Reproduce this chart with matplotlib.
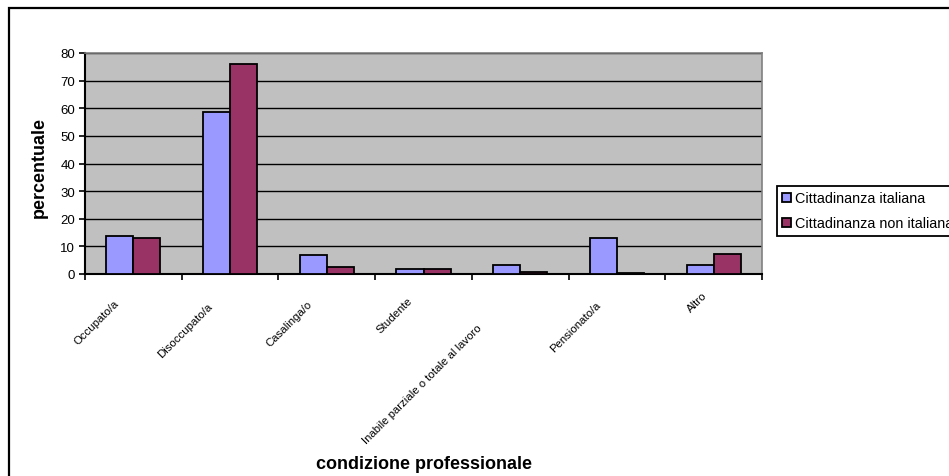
import numpy as np
import matplotlib
matplotlib.use("Agg")
import matplotlib.pyplot as plt
from matplotlib.patches import Rectangle
from matplotlib.transforms import ScaledTranslation

plt.rcParams['font.family'] = ['Liberation Sans', 'DejaVu Sans']

# dati: condizione professionale per cittadinanza (%)
categorie = ["Occupato/a", "Disoccupato/a", "Casalinga/o", "Studente",
             "Inabile parziale o totale al lavoro", "Pensionato/a", "Altro"]
italiana = [13.6, 58.5, 7.0, 1.8, 3.4, 12.9, 3.4]
non_italiana = [12.9, 75.9, 2.6, 1.8, 0.6, 0.5, 7.2]
serie = ["Cittadinanza italiana", "Cittadinanza non italiana"]
colori = ["#9999FF", "#993366"]

W, H = 949, 477
fig = plt.figure(figsize=(W / 100, H / 100), dpi=100)
ax = fig.add_axes([85 / W, 1 - 275 / H, (762 - 85) / W, (275 - 54) / H])

x = np.arange(len(categorie))
w = 0.28
b1 = ax.bar(x - w / 2, italiana, w, color=colori[0], edgecolor="black", linewidth=1.3, zorder=3)
b2 = ax.bar(x + w / 2, non_italiana, w, color=colori[1], edgecolor="black", linewidth=1.3, zorder=3)

ax.set_facecolor("#C0C0C0")
ax.set_xlim(-0.5, len(categorie) - 0.5)
ax.set_ylim(0, 80)
ax.set_yticks(range(0, 81, 10))
ax.yaxis.grid(True, color="black", linewidth=1)
ax.set_axisbelow(True)

# tacche ai bordi delle categorie, etichette disegnate a parte
ax.set_xticks(np.arange(-0.5, len(categorie)))
ax.set_xticklabels([])
ax.tick_params(axis="x", length=4, width=1.2, color="black")
ax.tick_params(axis="y", labelsize=9.5, length=4, width=1.2, pad=3)

for s in ["top", "right"]:
    ax.spines[s].set_color("#808080")
    ax.spines[s].set_linewidth(1.2)
for s in ["left", "bottom"]:
    ax.spines[s].set_color("black")
    ax.spines[s].set_linewidth(1.5)

etichette = []
for xi, nome in zip(x, categorie):
    t = ax.text(xi, 0, nome, transform=ax.get_xaxis_transform(), rotation=45,
                ha="right", va="center", rotation_mode="anchor", fontsize=8.2)
    etichette.append(t)

# sposta ogni etichetta lungo la diagonale in base alla sua lunghezza
r = fig.canvas.get_renderer()
for t in etichette:
    bw = t.get_window_extent(r).width
    dx = 0.33 * bw
    dy = 11 + 0.33 * bw
    t.set_transform(ax.get_xaxis_transform()
                    + ScaledTranslation(-dx / 100, -dy / 100, fig.dpi_scale_trans))

fig.text(39 / W, 1 - 167 / H, "percentuale", rotation=90, fontsize=13,
         fontweight="bold", ha="center", va="center")
fig.text((85 + 762) / 2 / W, 1 - 465 / H, "condizione professionale",
         fontsize=13, fontweight="bold", ha="center", va="center")

leg = fig.legend([b1, b2], serie, loc="upper left",
                 bbox_to_anchor=(776.7 / W, 1 - 186.7 / H), fontsize=10.4,
                 frameon=True, fancybox=False, framealpha=1, edgecolor="black",
                 handlelength=0.6, handleheight=0.6, handletextpad=0.3,
                 borderpad=0.4, labelspacing=0.75, borderaxespad=0)
leg.get_frame().set_linewidth(1.3)

# cornice del grafico
fig.patches.append(Rectangle((9 / W, -0.1), 1.2, 1 - 9 / H + 0.1, transform=fig.transFigure,
                             fill=False, edgecolor="black", linewidth=1.6))

fig.savefig("out.png", dpi=100)
